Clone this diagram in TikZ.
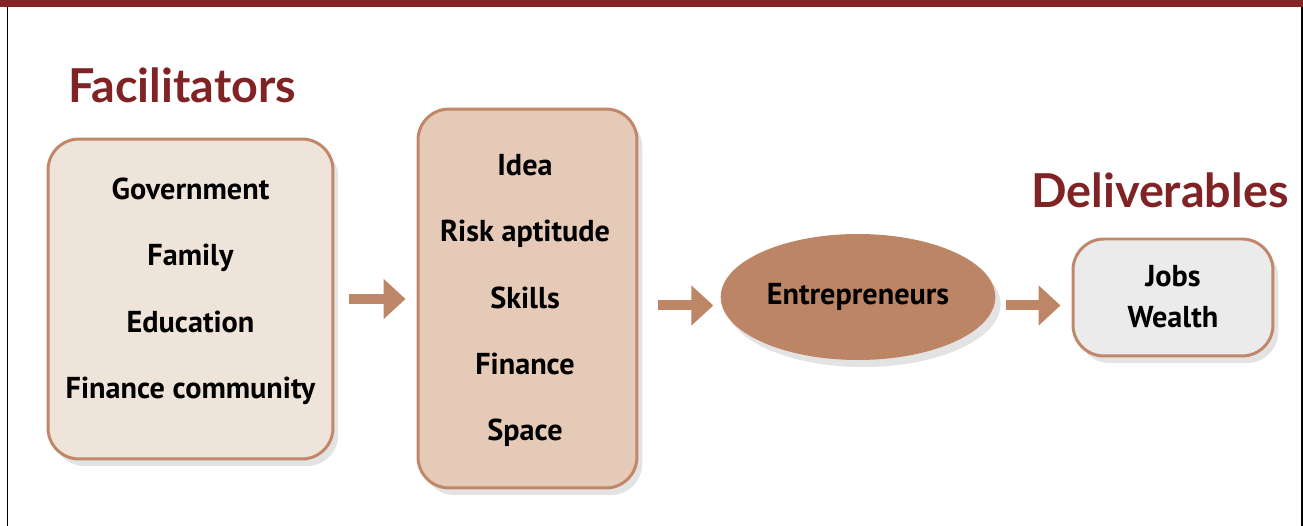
\documentclass[tikz,border=0pt]{standalone}
\usepackage{fontspec}
\setsansfont{PT Sans}
\newfontfamily\titlefont{Lato}
\usetikzlibrary{arrows.meta, shapes.geometric, shadows}

\definecolor{barred}{HTML}{842628}
\definecolor{titlered}{HTML}{7F2325}
\definecolor{edgebrown}{HTML}{C08769}
\definecolor{arrowbrown}{HTML}{BD8666}
\definecolor{palebeige}{HTML}{EFE4DA}
\definecolor{midbeige}{HTML}{E4CAB7}
\definecolor{ovalbrown}{HTML}{BC8666}
\definecolor{palegray}{HTML}{EBEBEB}

\tikzset{
    box/.style={draw=edgebrown, line width=1.7pt, rounded corners=0.62cm,
        drop shadow={shadow xshift=3pt, shadow yshift=-4pt, opacity=0.22}},
    bodytext/.style={font=\sffamily\bfseries\fontsize{17.2}{37.8}\selectfont, align=center, inner sep=0pt},
    heading/.style={font=\titlefont\bfseries\fontsize{26.6}{30}\selectfont, text=titlered, inner sep=0pt, anchor=base west},
    flowarrow/.style={draw=arrowbrown, line width=0.2cm,
        -{Triangle[length=0.44cm, width=0.78cm]}}
}

\begin{document}
\begin{tikzpicture}[x=0.02cm, y=-0.02cm]
    \useasboundingbox (0,0) rectangle (1303,526);

    % --- Cadre de la page ---
    \fill[barred] (0,0) rectangle (1303,7);
    \draw[line width=0.8pt] (7.5,7) -- (7.5,526);
    \draw[line width=0.8pt] (1302,7) -- (1302,526);

    % --- Titres ---
    \node[heading] (factitle) at (68,103) {Facilitators};
    \node[heading] (delivtitle) at (1031,207.5) {Deliverables};

    % --- Boîtes ---
    \node[box, fill=palebeige, minimum width=5.7cm, minimum height=6.4cm] (facil) at (190.5,299) {};
    \node[bodytext] (faciltext) at (190.5,291.5) {Government\\Family\\Education\\Finance community};

    \node[box, fill=midbeige, minimum width=4.38cm, minimum height=7.58cm] (factors) at (527.5,298.5) {};
    \node[bodytext] (factorstext) at (525,300.5) {Idea\\Risk aptitude\\Skills\\Finance\\Space};

    \node[ellipse, fill=ovalbrown, minimum width=5.4cm, minimum height=2.52cm,
        drop shadow={shadow xshift=3pt, shadow yshift=-4pt, opacity=0.22},
        font=\sffamily\bfseries\fontsize{17.2}{20}\selectfont] (entre) at (858,297) {Entrepreneurs};

    \node[box, fill=palegray, minimum width=4.0cm, minimum height=2.34cm] (deliv) at (1173,297.5) {};
    \node[bodytext, font=\sffamily\bfseries\fontsize{17.2}{23.2}\selectfont] (delivtext) at (1173,296.5) {Jobs\\Wealth};

    % --- Flèches ---
    \draw[flowarrow, shorten <=0.3cm, shorten >=0.22cm] (facil.east) -- (facil.east -| factors.west);
    \draw[flowarrow, shorten <=0.4cm, shorten >=0.14cm]
        ([yshift=-0.14cm]factors.east) -- ([yshift=-0.14cm]factors.east -| entre.west);
    \draw[flowarrow, shorten <=0.2cm, shorten >=0.22cm]
        ([yshift=-0.17cm]entre.east) -- ([yshift=-0.17cm]entre.east -| deliv.west);
\end{tikzpicture}
\end{document}
